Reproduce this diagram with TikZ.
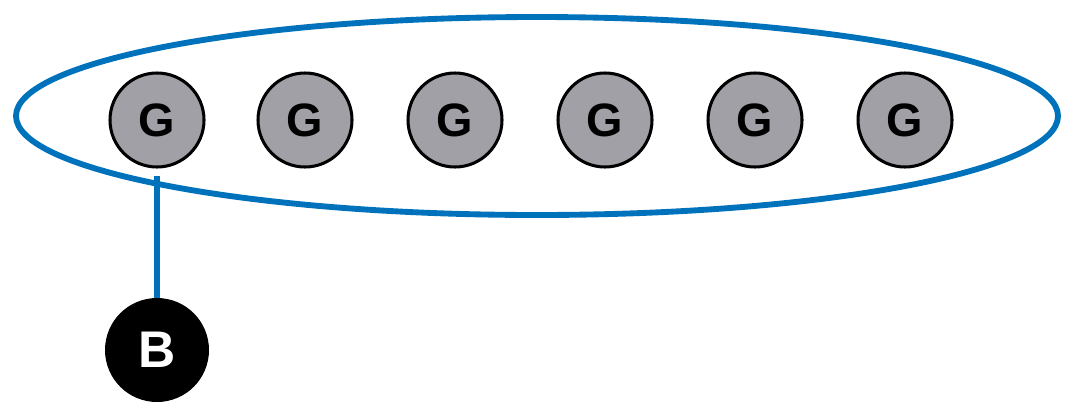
\documentclass[tikz,border=0pt]{standalone}
\usepackage{fontspec}
\usetikzlibrary{shapes.geometric}
\setmainfont{Liberation Sans}
\definecolor{eblue}{RGB}{0,114,188}
\definecolor{ggray}{RGB}{160,160,166}
\begin{document}
\begin{tikzpicture}[x=0.03cm,y=-0.03cm,
  gnode/.style={circle,draw=black,line width=2.6pt,fill=ggray,minimum size={94*0.03cm},inner sep=0pt,font=\fontsize{40}{40}\selectfont\bfseries},
  bnode/.style={circle,fill=black,minimum size={104*0.03cm},inner sep=0pt,text=white,font=\fontsize{44}{44}\selectfont\bfseries},
  bline/.style={draw=eblue,line width=5pt}]
\useasboundingbox (0,0) rectangle (1076,411);
\node[draw=eblue,line width=5pt,ellipse,minimum width={1042*0.03cm},minimum height={198*0.03cm}] (e) at (537,116) {};
\foreach \x [count=\i] in {157,305,455,605,755,905}
  \node[gnode] (g\i) at (\x,120) {G};
\node[bnode] (b) at (157,350) {B};
\coordinate (t) at (157,176);
\draw[bline] (t) -- (b.north);
\end{tikzpicture}
\end{document}
